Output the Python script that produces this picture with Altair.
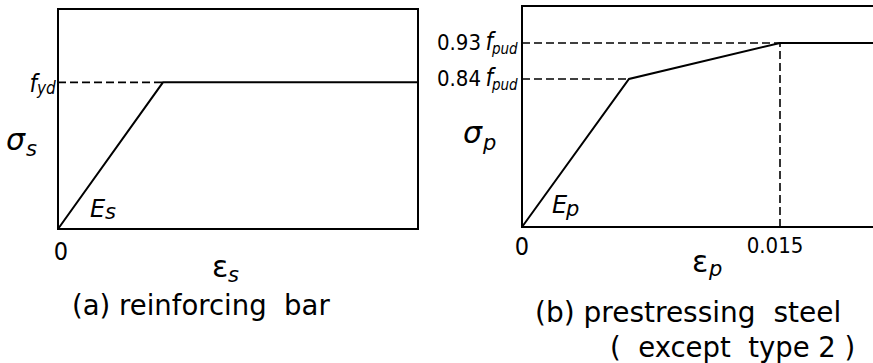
import altair as alt
import pandas as pd

# (a) reinforcing bar: strain in multiples of the yield strain, stress in units of f_yd
bar_strain = [0.0, 1.0, 3.43]
bar_stress = [0.0, 1.0, 1.0]
bar_fyd = 1.0

# (b) prestressing steel: strain, stress in units of f_pud
ps_strain = [0.0, 0.00622, 0.015, 0.0215]
ps_stress = [0.0, 0.84, 0.93, 0.93]
ps_eps_lim = 0.015
ps_f84 = 0.84
ps_f93 = 0.93

NUM_FONT = "DejaVu Sans Condensed, DejaVu Sans"
TXT_FONT = "DejaVu Sans"
INK = "#000000"
NB = "\u00a0"

# pixel ranges of the two framed panels
xs_a = alt.Scale(domain=[0, 3.43], range=[58, 418], nice=False, zero=False)
ys_a = alt.Scale(domain=[0, 1.5], range=[229, 9], nice=False, zero=False)
xs_b = alt.Scale(domain=[0, 0.015], range=[522, 780], nice=False, zero=False)
ys_b = alt.Scale(domain=[0, 0.84, 0.93, 1.0], range=[227, 79, 43, 6], nice=False, zero=False)


def frame(x2, y2, xs, ys):
    df = pd.DataFrame({"x": [0.0], "x2": [x2], "y": [0.0], "y2": [y2]})
    return alt.Chart(df).mark_rect(fillOpacity=0, stroke=INK, strokeWidth=2).encode(
        x=alt.X("x:Q", scale=xs, axis=None), x2="x2:Q",
        y=alt.Y("y:Q", scale=ys, axis=None), y2="y2:Q",
    )


def curve(strain, stress, xs, ys):
    df = pd.DataFrame({"strain": strain, "stress": stress})
    return alt.Chart(df).mark_line(color=INK, strokeWidth=2).encode(
        x=alt.X("strain:Q", scale=xs, axis=None),
        y=alt.Y("stress:Q", scale=ys, axis=None),
        order="strain:Q",
    )


def hdash(x0, x1, y, xs, ys):
    df = pd.DataFrame({"x": [x0], "x2": [x1], "y": [y]})
    return alt.Chart(df).mark_rule(color=INK, strokeWidth=1.6, strokeDash=[8, 4]).encode(
        x=alt.X("x:Q", scale=xs, axis=None), x2="x2:Q",
        y=alt.Y("y:Q", scale=ys, axis=None),
    )


def vdash(x, y0, y1, xs, ys):
    df = pd.DataFrame({"x": [x], "y": [y0], "y2": [y1]})
    return alt.Chart(df).mark_rule(color=INK, strokeWidth=1.6, strokeDash=[8, 4]).encode(
        x=alt.X("x:Q", scale=xs, axis=None),
        y=alt.Y("y:Q", scale=ys, axis=None), y2="y2:Q",
    )


def tick_text(text, x, y, xs, ys, size, align="center", dx=0, dy=0, italic=False, font=NUM_FONT):
    """Text anchored to a data value through the panel's scales."""
    df = pd.DataFrame({"x": [x], "y": [y]})
    kw = dict(text=text, font=font, fontSize=size, color=INK, align=align,
              baseline="alphabetic", dx=dx, dy=dy)
    if italic:
        kw["fontStyle"] = "italic"
    return alt.Chart(df).mark_text(**kw).encode(
        x=alt.X("x:Q", scale=xs, axis=None),
        y=alt.Y("y:Q", scale=ys, axis=None),
    )


def note(text, px, py, size, align="left", italic=False, font=TXT_FONT):
    """Free annotation placed in the figure."""
    kw = dict(text=text, font=font, fontSize=size, color=INK, align=align,
              baseline="alphabetic")
    if italic:
        kw["fontStyle"] = "italic"
    return alt.Chart(pd.DataFrame({"k": [0]})).mark_text(**kw).encode(
        x=alt.value(px), y=alt.value(py)
    )


panel_a = alt.layer(
    frame(3.43, 1.5, xs_a, ys_a),
    hdash(0.0, bar_strain[1], bar_fyd, xs_a, ys_a),
    curve(bar_strain, bar_stress, xs_a, ys_a),
    tick_text("0", 0.0, 0.0, xs_a, ys_a, 25, dx=3, dy=31),
    tick_text("f", 0.0, bar_fyd, xs_a, ys_a, 24, align="right", dx=-21, dy=10, italic=True),
    tick_text("yd", 0.0, bar_fyd, xs_a, ys_a, 17, align="left", dx=-21, dy=12, italic=True),
)

panel_b = alt.layer(
    frame(0.0215, 1.0, xs_b, ys_b),
    hdash(0.0, ps_strain[1], ps_f84, xs_b, ys_b),
    hdash(0.0, ps_eps_lim, ps_f93, xs_b, ys_b),
    vdash(ps_eps_lim, 0.0, ps_f93, xs_b, ys_b),
    curve(ps_strain, ps_stress, xs_b, ys_b),
    tick_text("0", 0.0, 0.0, xs_b, ys_b, 25, dx=0, dy=28),
    tick_text("0.015", ps_eps_lim, 0.0, xs_b, ys_b, 22, dx=-5, dy=26),
    tick_text("0.93", 0.0, ps_f93, xs_b, ys_b, 22, align="right", dx=-41, dy=7),
    tick_text("f", 0.0, ps_f93, xs_b, ys_b, 24, align="right", dx=-29, dy=7, italic=True),
    tick_text("pud", 0.0, ps_f93, xs_b, ys_b, 15, align="left", dx=-30, dy=11, italic=True),
    tick_text("0.84", 0.0, ps_f84, xs_b, ys_b, 22, align="right", dx=-41, dy=7),
    tick_text("f", 0.0, ps_f84, xs_b, ys_b, 24, align="right", dx=-29, dy=7, italic=True),
    tick_text("pud", 0.0, ps_f84, xs_b, ys_b, 15, align="left", dx=-30, dy=11, italic=True),
)

annotations = alt.layer(
    # panel (a)
    note("σ", 6, 150, 30, italic=True),
    note("s", 26, 156, 21, italic=True),
    note("E", 90, 217, 24, italic=True),
    note("s", 105, 219, 21, italic=True),
    note("ε", 212, 277, 30),
    note("s", 228, 282, 21, italic=True),
    note("(a) reinforcing" + NB + " bar", 72, 315, 27.5),
    # panel (b)
    note("σ", 463, 143, 30, italic=True),
    note("p", 483, 150, 21, italic=True),
    note("E", 552, 213, 24, italic=True),
    note("p", 566, 216, 21, italic=True),
    note("ε", 692, 272, 30),
    note("p", 709, 276, 21, italic=True),
    note("(b) prestressing" + NB + " steel", 535, 322, 28),
    note("(" + NB + " except" + NB + " type 2 )", 610, 357, 27.5),
)

chart = (
    alt.layer(panel_a, panel_b, annotations)
    .resolve_scale(x="independent", y="independent")
    .properties(width=873, height=363, autosize="none", padding=0, background="white")
    .configure_view(stroke=None)
)

chart.save("out.html", embed_options={"renderer": "svg", "actions": False})
